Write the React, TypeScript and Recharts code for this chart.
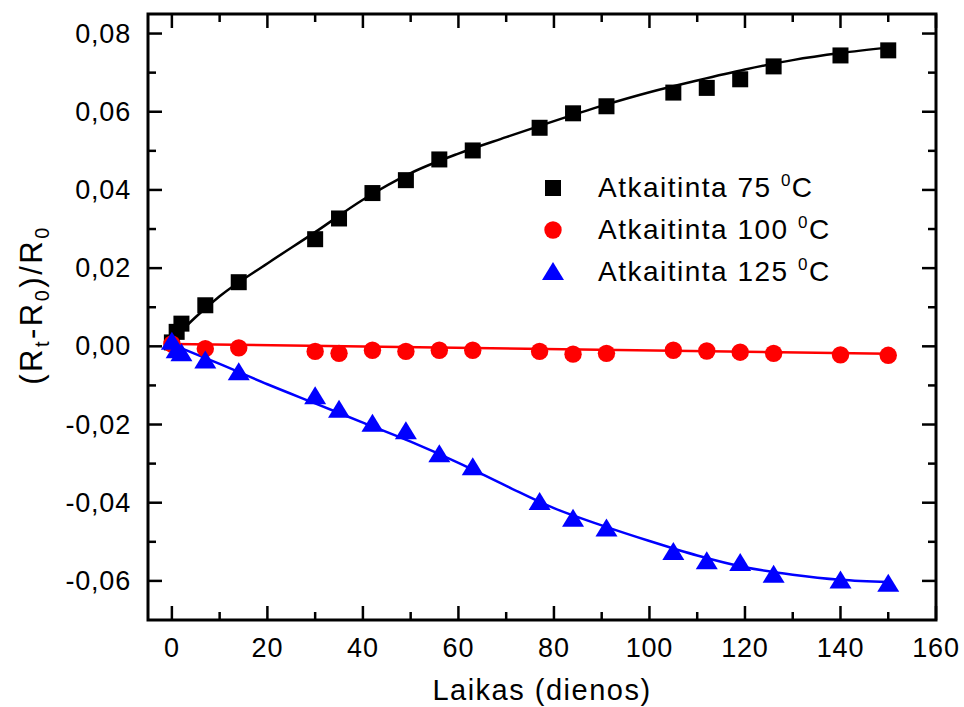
import React from "react";
import {
  ComposedChart,
  Line,
  Scatter,
  XAxis,
  YAxis,
  ReferenceArea,
} from "recharts";

// measured points (days, relative change)
const days75 = [0, 1, 2, 7, 14, 30, 35, 42, 49, 56, 63, 77, 84, 91, 105, 112, 119, 126, 140, 150];
const values75 = [
  0.001, 0.0037, 0.0058, 0.0105, 0.0164, 0.0274, 0.0327, 0.0392, 0.0425, 0.0478,
  0.0501, 0.0559, 0.0596, 0.0614, 0.0649, 0.0661, 0.0683, 0.0716, 0.0744, 0.0757,
];

const days100 = [0, 7, 14, 30, 35, 42, 49, 56, 63, 77, 84, 91, 105, 112, 119, 126, 140, 150];
const values100 = [
  0.0006, -0.0006, -0.0004, -0.0013, -0.0018, -0.001, -0.0013, -0.001, -0.001,
  -0.0013, -0.002, -0.0018, -0.001, -0.0012, -0.0015, -0.0018, -0.0022, -0.0023,
];

const days125 = [0, 1, 2, 7, 14, 30, 35, 42, 49, 56, 63, 77, 84, 91, 105, 112, 119, 126, 140, 150];
const values125 = [
  0.0012, -0.001, -0.0018, -0.0036, -0.0066, -0.0128, -0.0162, -0.0198, -0.0217, -0.0276,
  -0.0309, -0.0398, -0.0441, -0.0466, -0.0526, -0.055, -0.0554, -0.0584, -0.0599, -0.0607,
];

// fitted curves
const fitDays75 = [0, 5, 10, 20, 30, 40, 50, 60, 70, 80, 90, 100, 110, 120, 130, 140, 150];
const fit75 = [
  0.0015, 0.0075, 0.0128, 0.0212, 0.0292, 0.0375, 0.0443, 0.0493, 0.0535, 0.0576,
  0.0615, 0.065, 0.068, 0.0708, 0.0732, 0.075, 0.0764,
];
const fitDays100 = [0, 150];
const fit100 = [0.0006, -0.0019];
const fitDays125 = [0, 10, 20, 30, 40, 50, 60, 70, 80, 90, 100, 110, 120, 130, 140, 150];
const fit125 = [
  0.0005, -0.0045, -0.0097, -0.0146, -0.0195, -0.0244, -0.0298, -0.0357, -0.0414,
  -0.0458, -0.0498, -0.0535, -0.0565, -0.0584, -0.0597, -0.0603,
];

const xTicks = [0, 10, 20, 30, 40, 50, 60, 70, 80, 90, 100, 110, 120, 130, 140, 150, 160];
const yTicks = [-0.06, -0.05, -0.04, -0.03, -0.02, -0.01, 0, 0.01, 0.02, 0.03, 0.04, 0.05, 0.06, 0.07, 0.08];

const legendLabels = ["Atkaitinta 75 ", "Atkaitinta 100 ", "Atkaitinta 125 "];
const xTitle = "Laikas (dienos)";

const FONT = "'Liberation Sans', Arial, sans-serif";
const W = 964;
const H = 707;
const M = { top: 14, right: 28, left: 88, bottom: 57 };
const PLOT_W = W - M.left - 60 - M.right;
const PLOT_H = H - M.top - M.bottom - 30;

const zip = (xs: number[], ys: number[]) => xs.map((x, i) => ({ x, y: ys[i] }));

const XTick = (props: any) => {
  const { x, y, payload } = props;
  const v = payload.value;
  const major = v % 20 === 0;
  const len = major ? 14 : 8;
  return (
    <g>
      <line x1={x} x2={x} y1={y} y2={y - len} stroke="#000" strokeWidth={2.5} />
      <line x1={x} x2={x} y1={y - PLOT_H} y2={y - PLOT_H + len} stroke="#000" strokeWidth={2.5} />
      {major && (
        <text x={x} y={y + 37} textAnchor="middle" fontSize={27} letterSpacing={0.8} fontFamily={FONT} fill="#000">
          {v}
        </text>
      )}
    </g>
  );
};

const YTick = (props: any) => {
  const { x, y, payload } = props;
  const v = payload.value;
  const major = Math.round(v * 100) % 2 === 0;
  const len = major ? 14 : 8;
  return (
    <g>
      <line x1={x} x2={x + len} y1={y} y2={y} stroke="#000" strokeWidth={2.5} />
      <line x1={x + PLOT_W} x2={x + PLOT_W - len} y1={y} y2={y} stroke="#000" strokeWidth={2.5} />
      {major && (
        <text x={x - 17} y={y + 9} textAnchor="end" fontSize={27} letterSpacing={0.8} fontFamily={FONT} fill="#000">
          {v.toFixed(2).replace(".", ",")}
        </text>
      )}
    </g>
  );
};

const Square = (p: any) => <rect x={p.cx - 8} y={p.cy - 8} width={16} height={16} fill="#000" />;
const Circle = (p: any) => <circle cx={p.cx} cy={p.cy} r={8.7} fill="#ff0000" />;
const Triangle = (p: any) => (
  <polygon
    points={`${p.cx},${p.cy - 10} ${p.cx - 11},${p.cy + 8} ${p.cx + 11},${p.cy + 8}`}
    fill="#0000ff"
  />
);

export default function App() {
  return (
    <div style={{ position: "absolute", left: 0, top: 0, width: W, height: H, background: "#fff" }}>
      <ComposedChart width={W} height={H} margin={M}>
        <XAxis
          dataKey="x"
          type="number"
          domain={[-5, 160]}
          ticks={xTicks}
          interval={0}
          tickSize={0}
          tickMargin={0}
          tickLine={false}
          axisLine={false}
          tick={<XTick />}
          allowDataOverflow
        />
        <YAxis
          type="number"
          domain={[-0.07, 0.085]}
          ticks={yTicks}
          interval={0}
          tickSize={0}
          tickMargin={0}
          tickLine={false}
          axisLine={false}
          tick={<YTick />}
          allowDataOverflow
          width={60}
        />
        <Line data={zip(fitDays75, fit75)} dataKey="y" type="monotone" stroke="#000" strokeWidth={2.5} dot={false} isAnimationActive={false} />
        <Line data={zip(fitDays100, fit100)} dataKey="y" type="linear" stroke="#ff0000" strokeWidth={2.5} dot={false} isAnimationActive={false} />
        <Line data={zip(fitDays125, fit125)} dataKey="y" type="monotone" stroke="#0000ff" strokeWidth={2.5} dot={false} isAnimationActive={false} />
        <Scatter data={zip(days75, values75)} dataKey="y" shape={Square} isAnimationActive={false} />
        <Scatter data={zip(days100, values100)} dataKey="y" shape={Circle} isAnimationActive={false} />
        <Scatter data={zip(days125, values125)} dataKey="y" shape={Triangle} isAnimationActive={false} />
        <ReferenceArea
          x1={-5}
          x2={160}
          y1={-0.07}
          y2={0.085}
          fill="none"
          stroke="#000"
          strokeWidth={3}
          ifOverflow="visible"
        />
      </ComposedChart>

      {/* axis titles and legend drawn on top */}
      <svg width={W} height={H} style={{ position: "absolute", left: 0, top: 0, pointerEvents: "none" }}>
        <text x={542} y={700} textAnchor="middle" fontSize={29} letterSpacing={1.5} fontFamily={FONT} fill="#000">
          {xTitle}
        </text>
        <text
          transform="translate(42,305) rotate(-90)"
          textAnchor="middle"
          fontSize={31}
          letterSpacing={2.5}
          fontFamily={FONT}
          fill="#000"
        >
          (R<tspan fontSize={20} dy={7}>t</tspan>
          <tspan dy={-7}>-R</tspan>
          <tspan fontSize={20} dy={7}>0</tspan>
          <tspan dy={-7}>)/R</tspan>
          <tspan fontSize={20} dy={7}>0</tspan>
        </text>
        {legendLabels.map((label, i) => {
          const cy = 188 + i * 42;
          const cx = 553;
          return (
            <g key={label}>
              {i === 0 && <Square cx={cx} cy={cy} />}
              {i === 1 && <Circle cx={cx} cy={cy} />}
              {i === 2 && <Triangle cx={cx} cy={cy} />}
              <text x={598} y={cy + 9} fontSize={28} letterSpacing={1.5} fontFamily={FONT} fill="#000">
                {label}
                <tspan fontSize={17} dy={-11}>0</tspan>
                <tspan dy={11}>C</tspan>
              </text>
            </g>
          );
        })}
      </svg>
    </div>
  );
}
